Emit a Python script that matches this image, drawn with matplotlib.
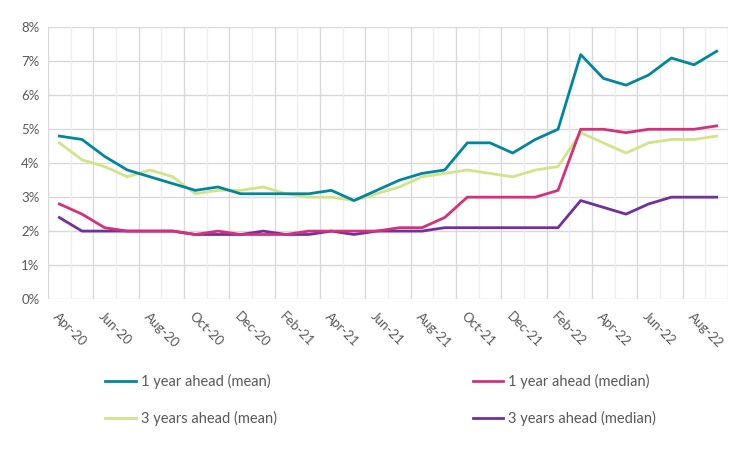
import matplotlib
matplotlib.use("Agg")
import matplotlib.pyplot as plt
from matplotlib.ticker import FuncFormatter

plt.rcParams['font.family'] = ['Lato', 'DejaVu Sans']

# monthly, Apr-20 .. Sep-22
months = ["Apr-20", "May-20", "Jun-20", "Jul-20", "Aug-20", "Sep-20", "Oct-20", "Nov-20",
          "Dec-20", "Jan-21", "Feb-21", "Mar-21", "Apr-21", "May-21", "Jun-21", "Jul-21",
          "Aug-21", "Sep-21", "Oct-21", "Nov-21", "Dec-21", "Jan-22", "Feb-22", "Mar-22",
          "Apr-22", "May-22", "Jun-22", "Jul-22", "Aug-22", "Sep-22"]

one_year_mean = [4.8, 4.7, 4.2, 3.8, 3.6, 3.4, 3.2, 3.3, 3.1, 3.1, 3.1, 3.1, 3.2, 2.9, 3.2,
                 3.5, 3.7, 3.8, 4.6, 4.6, 4.3, 4.7, 5.0, 7.2, 6.5, 6.3, 6.6, 7.1, 6.9, 7.3]
one_year_median = [2.8, 2.5, 2.1, 2.0, 2.0, 2.0, 1.9, 2.0, 1.9, 1.9, 1.9, 2.0, 2.0, 2.0, 2.0,
                   2.1, 2.1, 2.4, 3.0, 3.0, 3.0, 3.0, 3.2, 5.0, 5.0, 4.9, 5.0, 5.0, 5.0, 5.1]
three_year_mean = [4.6, 4.1, 3.9, 3.6, 3.8, 3.6, 3.1, 3.2, 3.2, 3.3, 3.1, 3.0, 3.0, 2.9, 3.1,
                   3.3, 3.6, 3.7, 3.8, 3.7, 3.6, 3.8, 3.9, 4.9, 4.6, 4.3, 4.6, 4.7, 4.7, 4.8]
three_year_median = [2.4, 2.0, 2.0, 2.0, 2.0, 2.0, 1.9, 1.9, 1.9, 2.0, 1.9, 1.9, 2.0, 1.9, 2.0,
                     2.0, 2.0, 2.1, 2.1, 2.1, 2.1, 2.1, 2.1, 2.9, 2.7, 2.5, 2.8, 3.0, 3.0, 3.0]

fig = plt.figure(figsize=(7.56, 4.5), dpi=100)
ax = fig.add_axes([0.0635, 0.3356, 0.8995, 0.6034])

x = range(len(months))
l1, = ax.plot(x, one_year_mean, color="#00869E", lw=2.0, label="1 year ahead (mean)", zorder=6)
l2, = ax.plot(x, one_year_median, color="#D6307A", lw=2.0, label="1 year ahead (median)", zorder=5)
l3, = ax.plot(x, three_year_mean, color="#D3E387", lw=2.0, label="3 years ahead (mean)", zorder=3)
l4, = ax.plot(x, three_year_median, color="#7030A0", lw=2.0, label="3 years ahead (median)", zorder=4)

ax.set_xlim(-0.5, len(months) - 0.5)
ax.set_ylim(0, 8)
ax.set_yticks(range(0, 9))
ax.yaxis.set_major_formatter(FuncFormatter(lambda v, p: "%d%%" % v))

ax.set_xticks(list(range(0, len(months), 2)))
ax.set_xticklabels(months[::2], rotation=-45, ha="left", va="top", rotation_mode="anchor")

# gridlines at category boundaries, alternating dark/light
for k in range(len(months) + 1):
    ax.axvline(k - 0.5, color="#D9D9D9" if k % 2 == 0 else "#EEEEEE", lw=1, zorder=1)
ax.grid(axis="y", color="#D9D9D9", lw=1, zorder=1)
ax.set_axisbelow(True)

for s in ax.spines.values():
    s.set_visible(False)
ax.tick_params(length=0, labelsize=9.5, labelcolor="#595959")
ax.tick_params(axis="x", pad=8)
ax.tick_params(axis="y", pad=6)

leg = fig.legend(handles=[l1, l3, l2, l4], ncol=2, loc="center left",
                 bbox_to_anchor=(0.122, 0.111), frameon=False,
                 fontsize=10.5, labelcolor="#595959", handlelength=2.1, handletextpad=0.35,
                 columnspacing=13.4, labelspacing=1.45)

fig.savefig("out.png", dpi=100)
